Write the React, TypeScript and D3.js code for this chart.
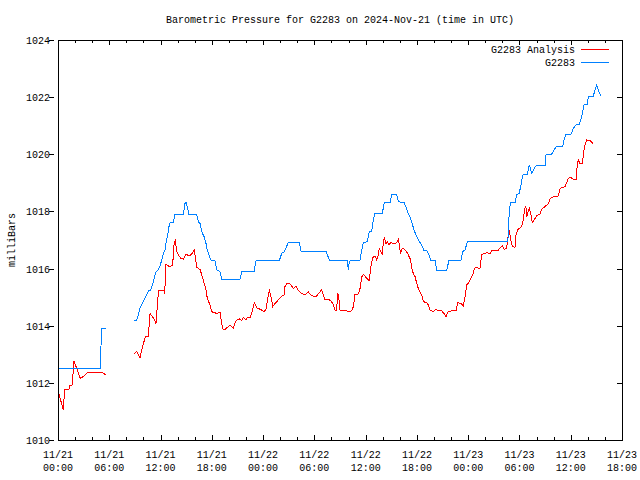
import React, { useEffect } from "react";
import * as d3 from "d3";

// hours since 2024-11-21 00:00 UTC ; null marks a data gap
const analysisHours = [
  0.12, 0.5, 0.62, 0.78, 1.29, 1.4, 1.67, 1.87, 2.22, 2.61, 2.96, 3.55, 4.13, 4.72, 5.18, 5.42, 5.58,
  null,
  8.93, 9.21, 9.6, 9.86, 10.06, 10.26, 10.57, 10.77, 11.15, 11.47, 11.67, 11.79, 12.44, 12.47, 12.52, 12.64,
  12.91, 13.11, 13.42, 13.57, 13.73, 13.89, 14.08, 14.36, 14.66, 14.98, 15.25, 15.56, 15.83, 15.95, 16.15,
  16.23, 16.62, 16.82, 17.0, 17.32, 17.47, 17.79, 17.99, 18.57, 18.96, 19.16, 19.34, 19.54, 19.93, 20.13,
  20.51, 20.71, 20.91, 21.3, 21.5, 21.68, 22.0, 22.2, 22.47, 22.78, 22.97, 23.32, 23.72, 24.11, 24.34, 24.54,
  24.73, 24.89, 25.13, 25.39, 25.78, 26.18, 26.45, 26.56, 26.76, 27.15, 27.53, 27.85, 28.12, 28.52, 28.9,
  29.29, 29.57, 29.88, 30.27, 30.66, 30.86, 31.05, 31.24, 31.63, 31.91, 32.15, 32.41, 32.61, 32.73, 32.88,
  33.0, 33.7, 33.97, 34.37, 34.56, 34.75, 35.14, 35.34, 35.54, 35.73, 36.12, 36.43, 36.59, 36.71, 36.9,
  37.1, 37.29, 37.48, 37.6, 37.8, 37.95, 38.07, 38.18, 38.38, 38.54, 38.73, 38.93, 39.17, 39.44, 39.63,
  39.82, 39.94, 40.1, 40.22, 40.41, 40.72, 40.99, 41.27, 41.39, 41.58, 41.78, 41.98, 42.16, 42.36, 42.56,
  42.75, 43.15, 43.33, 43.53, 43.92, 44.23, 44.5, 44.9, 45.17, 45.4, 45.67, 46.07, 46.57, 46.77, 47.16,
  47.43, 47.63, 47.83, 48.02, 48.21, 48.41, 48.6, 48.71, 48.99, 49.38, 49.58, 49.77, 50.17, 50.55, 50.82,
  51.53, 51.81, 51.99, 52.23, 52.51, 52.62, 52.81, 52.98, 53.1, 53.21, 53.48, 53.6, 53.79, 53.98, 54.26,
  54.46, 54.58, 54.74, 54.86, 55.01, 55.16, 55.32, 55.44, 55.56, 55.83, 55.98, 56.41, 56.61, 57.0, 57.39,
  57.59, 57.82, 58.56, 58.76, 59.34, 59.53, 59.72, 60.0, 60.38, 60.62, 60.77, 60.89, 61.09, 61.4, 61.47,
  61.67, 61.87, 62.26, 62.57,
];
const analysisMb = [
  1011.6, 1011.19, 1011.05, 1011.77, 1011.77, 1011.91, 1011.93, 1012.77, 1012.48, 1012.16, 1012.22, 1012.38, 1012.36, 1012.36, 1012.38, 1012.31, 1012.31,
  null,
  1013.03, 1013.09, 1012.89, 1013.21, 1013.44, 1013.64, 1013.64, 1014.43, 1014.28, 1014.08, 1014.9, 1015.25, 1015.25, 1015.11, 1015.37, 1016.16,
  1016.09, 1016.07, 1016.13, 1016.83, 1017.02, 1016.59, 1016.48, 1016.36, 1016.33, 1016.51, 1016.45, 1016.48, 1016.59, 1016.65, 1016.24,
  1016.04, 1015.97, 1015.78, 1015.6, 1015.25, 1014.96, 1014.73, 1014.49, 1014.43, 1014.46, 1014.08, 1013.85, 1013.87, 1013.97, 1014.03,
  1013.91, 1014.08, 1014.2, 1014.24, 1014.17, 1014.29, 1014.21, 1014.3, 1014.28, 1014.55, 1014.81, 1014.61, 1014.57, 1014.49, 1014.57, 1014.96,
  1015.23, 1015.08, 1014.67, 1014.78, 1014.9, 1015.04, 1015.08, 1015.37, 1015.48, 1015.46, 1015.31, 1015.37, 1015.23, 1015.13, 1015.08,
  1015.19, 1015.08, 1015.04, 1015.04, 1015.19, 1015.25, 1015.08, 1014.9, 1014.92, 1014.88, 1014.78, 1014.55, 1014.55, 1015.16, 1014.92,
  1014.55, 1014.55, 1014.49, 1014.52, 1014.67, 1015.08, 1015.11, 1015.3, 1015.7, 1015.8, 1015.66, 1015.58, 1016.01, 1016.24, 1016.42,
  1016.44, 1016.3, 1016.48, 1016.71, 1016.59, 1016.48, 1016.94, 1017.09, 1016.88, 1016.94, 1016.83, 1016.91, 1016.88, 1016.86, 1016.91,
  1017.02, 1016.83, 1016.51, 1016.68, 1016.71, 1016.63, 1016.48, 1016.3, 1016.01, 1015.83, 1015.72, 1015.48, 1015.31, 1015.17, 1015.08,
  1014.84, 1014.81, 1014.73, 1014.55, 1014.49, 1014.57, 1014.52, 1014.52, 1014.43, 1014.32, 1014.49, 1014.52, 1014.52, 1014.81, 1014.78,
  1014.69, 1015.02, 1015.43, 1015.48, 1015.6, 1015.72, 1015.83, 1016.01, 1016.04, 1016.0, 1016.48, 1016.51, 1016.56, 1016.53, 1016.65,
  1016.65, 1016.74, 1016.79, 1016.67, 1016.71, 1017.06, 1017.33, 1017.0, 1016.83, 1016.77, 1016.74, 1017.18, 1017.35, 1017.41, 1017.47,
  1017.72, 1018.05, 1018.2, 1017.82, 1018.0, 1018.1, 1017.93, 1017.7, 1017.61, 1017.76, 1017.84, 1017.91, 1018.08, 1018.17, 1018.28,
  1018.45, 1018.5, 1018.54, 1018.81, 1018.87, 1019.01, 1019.16, 1019.19, 1019.1, 1019.12, 1019.63, 1019.8, 1019.68, 1019.68, 1020.03,
  1020.33, 1020.5, 1020.48, 1020.38,
];

const stationHours = [
  0.05, 4.95, 5.03, 5.07, 5.58,
  null,
  8.89, 9.21, 9.4, 9.6, 9.98, 10.38, 10.57, 10.85, 11.04, 11.27, 11.43, 11.67, 11.94, 12.14, 12.32, 12.52,
  12.64, 12.84, 12.99, 13.11, 13.49, 13.69, 14.66, 14.86, 14.98, 15.18, 15.29, 16.23, 16.42, 16.62, 16.82,
  17.09, 17.32, 17.47, 17.67, 17.87, 18.37, 18.57, 18.96, 19.16, 21.3, 21.5, 22.94, 23.17, 25.9, 26.18,
  26.48, 26.95, 28.24, 28.44, 31.36, 31.75, 33.85, 33.97, 34.09, 34.23, 35.34, 35.54, 35.73, 36.19, 36.43,
  36.71, 36.9, 37.1, 37.95, 38.18, 38.85, 39.05, 39.63, 39.82, 40.49, 40.72, 40.99, 41.19, 41.39, 41.66,
  41.98, 42.28, 42.56, 42.83, 43.15, 43.45, 43.61, 44.12, 44.32, 45.49, 45.76, 47.16, 47.36, 47.63, 47.9,
  52.62, 52.69, 52.81, 52.98, 53.48, 53.68, 53.95, 54.15, 54.27, 54.46, 54.92, 55.16, 55.44, 55.63, 55.94,
  56.99, 57.11, 57.77, 58.04, 58.36, 59.06, 59.21, 59.45, 60.03, 60.3, 60.62, 61.0, 61.17, 61.4, 61.56,
  61.94, 62.06, 62.64, 62.84, 63.04, 63.23, 63.51,
];
const stationMb = [
  1012.5, 1012.5, 1013.23, 1013.9, 1013.9,
  null,
  1014.2, 1014.2, 1014.38, 1014.61, 1014.84, 1015.08, 1015.21, 1015.25, 1015.43, 1015.66, 1015.86, 1015.93, 1016.09, 1016.3, 1016.53, 1016.65,
  1016.88, 1017.18, 1017.47, 1017.61, 1017.61, 1017.9, 1017.9, 1018.28, 1018.31, 1018.11, 1017.9, 1017.9, 1017.64, 1017.58, 1017.29,
  1017.12, 1016.88, 1016.65, 1016.48, 1016.3, 1016.28, 1015.95, 1015.89, 1015.62, 1015.62, 1015.89, 1015.89, 1016.28, 1016.28, 1016.53,
  1016.59, 1016.91, 1016.91, 1016.61, 1016.61, 1016.3, 1016.3, 1015.95, 1016.24, 1016.3, 1016.3, 1016.63, 1016.91, 1016.94, 1017.29,
  1017.29, 1017.7, 1017.93, 1017.93, 1018.31, 1018.31, 1018.58, 1018.61, 1018.34, 1018.31, 1018.17, 1017.93, 1017.82, 1017.64, 1017.35,
  1017.12, 1016.94, 1016.83, 1016.63, 1016.63, 1016.44, 1016.3, 1016.3, 1015.95, 1015.95, 1016.3, 1016.3, 1016.59, 1016.65, 1016.94,
  1016.94, 1017.14, 1018.05, 1018.31, 1018.31, 1018.58, 1018.63, 1018.87, 1019.1, 1019.31, 1019.31, 1019.63, 1019.33, 1019.45, 1019.6,
  1019.6, 1019.98, 1020.01, 1020.15, 1020.29, 1020.29, 1020.48, 1020.7, 1020.7, 1020.91, 1021.03, 1021.05, 1021.2, 1021.49, 1021.73,
  1021.73, 1022.04, 1022.04, 1022.25, 1022.43, 1022.25, 1022.04,
];

const yTicks = [1010, 1012, 1014, 1016, 1018, 1020, 1022, 1024];
const seriesNames = ["G2283 Analysis", "G2283"];
const seriesColors = ["#ff0000", "#0080ff"];
const titleText = "Barometric Pressure for G2283 on 2024-Nov-21 (time in UTC)";
const yLabel = "milliBars";

const FONT = "'Liberation Mono', 'DejaVu Sans Mono', monospace";
const W = 640, H = 480;
const L = 58, R = 622, T = 40, B = 440;

const t0 = Date.UTC(2024, 10, 21, 0);
const t1 = Date.UTC(2024, 10, 23, 18);
const toDate = (h: number) => new Date(t0 + h * 3600000);

export default function App() {
  useEffect(() => {
    document.body.style.margin = "0";
  }, []);

  const x = d3.scaleUtc().domain([new Date(t0), new Date(t1)]).range([L, R]);
  const y = d3.scaleLinear().domain([1010, 1024]).range([B, T]);

  const majorTicks = x.ticks(d3.utcHour.every(6)!);
  const minorTicks = x.ticks(d3.utcHour.every(2)!).filter((d) => d.getUTCHours() % 6 !== 0);

  const mkPts = (hs: (number | null)[], vs: (number | null)[]) =>
    hs.map((h, i) => [h, vs[i]] as [number | null, number | null]);

  const line = d3
    .line<[number | null, number | null]>()
    .defined((d) => d[0] != null && d[1] != null)
    .x((d) => x(toDate(d[0] as number)))
    .y((d) => y(d[1] as number));

  const series = [mkPts(analysisHours, analysisMb), mkPts(stationHours, stationMb)];
  const fmtDay = d3.utcFormat("%m/%d");
  const fmtHour = d3.utcFormat("%H:%M");

  return (
    <svg
      width={W}
      height={H}
      style={{ position: "absolute", left: 0, top: 0, background: "#fff" }}
      fontFamily={FONT}
      fontSize={10}
    >
      <rect x={0} y={0} width={W} height={H} fill="#fff" />
      <text x={(L + R) / 2} y={23} textAnchor="middle" fill="#000">
        {titleText}
      </text>
      <text
        transform={`translate(15,${(T + B) / 2}) rotate(-90)`}
        textAnchor="middle"
        fill="#000"
      >
        {yLabel}
      </text>

      {/* y ticks & labels */}
      {yTicks.map((v) => (
        <g key={v}>
          <line x1={49} x2={54} y1={Math.round(y(v)) + 0.5} y2={Math.round(y(v)) + 0.5} stroke="#000" shapeRendering="crispEdges" />
          <line x1={R - 5} x2={R} y1={Math.round(y(v)) + 0.5} y2={Math.round(y(v)) + 0.5} stroke="#000" shapeRendering="crispEdges" />
          <text x={50} y={y(v) + 4} textAnchor="end" fill="#000">
            {v}
          </text>
        </g>
      ))}

      {/* x ticks */}
      {majorTicks.map((d, i) => {
        const px = Math.round(x(d)) + 0.5;
        return (
          <g key={"M" + i}>
            <line x1={px} x2={px} y1={B} y2={B - 5} stroke="#000" shapeRendering="crispEdges" />
            <line x1={px} x2={px} y1={T} y2={T + 5} stroke="#000" shapeRendering="crispEdges" />
            <text x={x(d)} y={458} textAnchor="middle" fill="#000">
              {fmtDay(d)}
            </text>
            <text x={x(d)} y={471} textAnchor="middle" fill="#000">
              {fmtHour(d)}
            </text>
          </g>
        );
      })}
      {minorTicks.map((d, i) => {
        const px = Math.round(x(d)) + 0.5;
        return (
          <g key={"m" + i}>
            <line x1={px} x2={px} y1={B} y2={B - 3} stroke="#000" shapeRendering="crispEdges" />
            <line x1={px} x2={px} y1={T} y2={T + 3} stroke="#000" shapeRendering="crispEdges" />
          </g>
        );
      })}

      {/* series */}
      {series.map((pts, i) => (
        <path
          key={i}
          d={line(pts) || ""}
          fill="none"
          stroke={seriesColors[i]}
          strokeWidth={1}
          shapeRendering="crispEdges"
        />
      ))}

      {/* frame */}
      <rect x={L + 0.5} y={T + 0.5} width={R - L} height={B - T} fill="none" stroke="#000" shapeRendering="crispEdges" />

      {/* legend */}
      {seriesNames.map((n, i) => (
        <g key={n}>
          <text x={575} y={53 + i * 13} textAnchor="end" fill="#000">
            {n}
          </text>
          <line x1={581} x2={609} y1={49.5 + i * 13} y2={49.5 + i * 13} stroke={seriesColors[i]} shapeRendering="crispEdges" />
        </g>
      ))}
    </svg>
  );
}
